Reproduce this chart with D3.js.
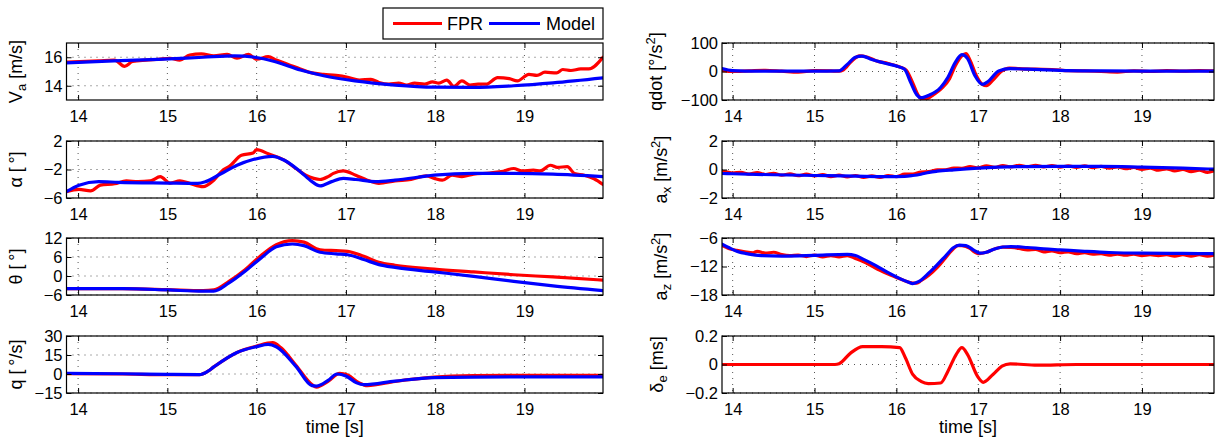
<!DOCTYPE html>
<html>
<head>
<meta charset="utf-8">
<script src="https://cdn.jsdelivr.net/npm/d3@7"></script>
<style>
body { margin: 0; background: #fff; }
text { font-family: "Liberation Sans", Arial, sans-serif; fill: #000; }
</style>
</head>
<body>
<div class="render"></div>
<script>
"use strict";

// shared time axis
var timeRange = [13.87, 19.88];
var xTicks = [14, 15, 16, 17, 18, 19];

// [time, value] pairs
var vaFpr = [[13.87,15.66],[14.23,15.75],[14.41,15.8],[14.52,15.36],[14.61,15.7],[14.76,15.8],[14.9,15.86],[15.03,15.93],[15.14,15.8],[15.25,16.16],[15.38,16.23],[15.52,16.1],[15.67,16.2],[15.78,15.93],[15.91,16.2],[16.0,15.86],[16.13,16.05],[16.22,15.8],[16.36,15.48],[16.49,15.18],[16.62,14.9],[16.75,14.8],[16.89,14.73],[17.02,14.6],[17.15,14.4],[17.28,14.45],[17.37,14.23],[17.48,14.11],[17.59,14.18],[17.68,14.05],[17.77,14.18],[17.88,14.11],[17.97,14.27],[18.04,14.18],[18.13,14.39],[18.21,13.95],[18.3,14.34],[18.39,14.05],[18.48,14.11],[18.57,14.11],[18.7,14.57],[18.83,14.5],[18.92,14.34],[19.05,14.8],[19.14,14.73],[19.23,14.95],[19.36,14.9],[19.43,15.14],[19.52,15.07],[19.63,15.18],[19.72,15.18],[19.88,16.0]];
var vaModel = [[13.87,15.6],[14.4,15.75],[14.9,15.85],[15.4,16.0],[15.75,16.1],[15.98,16.0],[16.2,15.7],[16.49,15.1],[16.75,14.7],[17.1,14.34],[17.55,14.05],[17.99,13.9],[18.43,13.88],[18.88,14.0],[19.32,14.2],[19.88,14.55]];

var alphaFpr = [[13.87,-5.1],[14.01,-4.8],[14.14,-5.0],[14.25,-4.2],[14.41,-4.0],[14.54,-3.6],[14.67,-3.7],[14.81,-3.6],[14.92,-3.0],[15.03,-3.9],[15.14,-3.6],[15.25,-3.95],[15.4,-4.4],[15.52,-3.5],[15.63,-2.0],[15.69,-1.6],[15.83,0],[15.96,0.3],[16.0,0.8],[16.13,0.2],[16.31,-0.7],[16.44,-1.86],[16.55,-2.8],[16.64,-3.25],[16.71,-3.4],[16.8,-3.0],[16.86,-2.55],[16.97,-2.2],[17.11,-2.8],[17.24,-3.5],[17.37,-3.95],[17.55,-3.6],[17.73,-3.4],[17.9,-2.9],[17.99,-3.25],[18.08,-3.5],[18.19,-2.8],[18.3,-3.0],[18.43,-2.65],[18.61,-2.5],[18.74,-2.3],[18.88,-1.86],[18.97,-2.2],[19.1,-2.1],[19.18,-2.2],[19.29,-1.4],[19.37,-1.7],[19.48,-1.6],[19.56,-2.55],[19.67,-2.8],[19.78,-3.3],[19.88,-4.1]];
var alphaModel = [[13.87,-5.1],[14.01,-4.2],[14.23,-3.7],[14.45,-3.8],[15.0,-3.9],[15.34,-3.95],[15.43,-3.7],[15.6,-2.6],[15.78,-1.4],[15.96,-0.6],[16.18,-0.15],[16.31,-0.7],[16.49,-2.3],[16.62,-3.7],[16.71,-4.3],[16.84,-3.7],[16.97,-3.25],[17.11,-3.4],[17.33,-3.7],[17.55,-3.5],[17.99,-2.8],[18.43,-2.55],[18.88,-2.55],[19.32,-2.65],[19.88,-3.0]];

var thetaFpr = [[13.87,-4.0],[14.5,-4.0],[15.0,-4.3],[15.4,-4.6],[15.52,-4.4],[15.69,-1.7],[15.87,2.0],[16.05,6.5],[16.22,9.9],[16.4,11.2],[16.53,10.7],[16.71,8.3],[16.89,8.0],[17.02,7.8],[17.2,6.2],[17.37,4.3],[17.55,3.4],[17.99,2.2],[18.43,1.3],[18.88,0.4],[19.32,-0.3],[19.88,-1.3]];
var thetaModel = [[13.87,-4.0],[14.5,-4.0],[15.0,-4.4],[15.4,-4.8],[15.52,-4.8],[15.69,-2.2],[15.87,1.5],[16.05,5.7],[16.22,9.2],[16.4,10.1],[16.53,9.6],[16.71,7.5],[16.89,7.0],[17.02,6.7],[17.2,5.2],[17.37,3.6],[17.55,2.7],[17.99,1.3],[18.43,-0.1],[18.88,-1.7],[19.32,-3.1],[19.88,-4.6]];

var qFpr = [[13.87,0.2],[14.5,0],[15.0,-0.5],[15.36,-0.5],[15.45,2],[15.52,5.6],[15.78,17],[16.0,22],[16.18,24.7],[16.27,20.9],[16.44,6.9],[16.62,-8.4],[16.67,-10.4],[16.8,-5.9],[16.93,0.5],[17.02,-0.8],[17.15,-7.1],[17.24,-9.2],[17.55,-5.9],[17.99,-2.5],[18.43,-1.3],[19.0,-1.0],[19.88,-1.0]];
var qModel = [[13.87,0.5],[14.5,0.2],[15.0,-0.3],[15.36,-0.5],[15.45,2],[15.52,5.6],[15.78,17],[16.0,21.6],[16.13,23.4],[16.22,21.5],[16.44,6],[16.62,-9.2],[16.67,-9.5],[16.8,-5],[16.9,0],[17.0,-1.5],[17.12,-7],[17.2,-8.4],[17.55,-5.6],[17.99,-2.8],[18.43,-2.4],[19.0,-2.3],[19.88,-2.3]];

var qdotFpr = [[13.87,3],[14.0,0],[14.2,2],[14.4,4],[14.6,1],[14.8,-2],[15.0,3],[15.2,2],[15.3,1],[15.35,5],[15.45,35],[15.55,55],[15.65,50],[15.75,38],[15.9,28],[16.05,15],[16.12,5],[16.2,-40],[16.27,-85],[16.32,-98],[16.38,-95],[16.45,-82],[16.55,-60],[16.65,-25],[16.72,20],[16.8,55],[16.85,63],[16.9,40],[16.97,-10],[17.05,-45],[17.1,-50],[17.18,-30],[17.28,0],[17.38,12],[17.5,10],[17.7,8],[17.9,7],[18.1,3],[18.3,2],[18.5,0],[18.7,-2],[18.9,2],[19.1,0],[19.3,3],[19.5,1],[19.7,3],[19.88,2]];
var qdotModel = [[13.87,10],[14.0,3],[14.3,1],[15.0,1],[15.3,2],[15.4,25],[15.5,50],[15.58,54],[15.7,42],[15.85,30],[16.0,19],[16.1,8],[16.17,-35],[16.25,-82],[16.3,-92],[16.4,-83],[16.54,-56],[16.63,-20],[16.72,32],[16.8,59],[16.87,45],[16.96,-15],[17.05,-45],[17.12,-35],[17.25,2],[17.39,10],[17.6,8],[18.0,4],[18.5,2],[19.0,1],[19.88,1]];

var axFpr = [[13.87,-0.15],[13.9,-0.15],[14.0,-0.25],[14.1,-0.2],[14.2,-0.32],[14.3,-0.22],[14.4,-0.35],[14.5,-0.27],[14.6,-0.4],[14.7,-0.3],[14.8,-0.44],[14.9,-0.33],[15.0,-0.45],[15.1,-0.36],[15.2,-0.5],[15.3,-0.4],[15.4,-0.52],[15.5,-0.42],[15.6,-0.55],[15.7,-0.45],[15.8,-0.55],[15.9,-0.42],[16.0,-0.5],[16.1,-0.33],[16.2,-0.32],[16.3,-0.18],[16.4,-0.15],[16.5,-0.03],[16.6,-0.02],[16.7,0.1],[16.8,0.08],[16.9,0.2],[17.0,0.12],[17.1,0.25],[17.2,0.15],[17.3,0.28],[17.4,0.18],[17.5,0.3],[17.6,0.2],[17.7,0.3],[17.8,0.18],[17.9,0.28],[18.0,0.17],[18.1,0.25],[18.2,0.15],[18.3,0.25],[18.4,0.13],[18.5,0.22],[18.6,0.1],[18.7,0.18],[18.8,0.06],[18.9,0.14],[19.0,0.0],[19.1,0.1],[19.2,-0.05],[19.3,0.05],[19.4,-0.1],[19.5,0.0],[19.6,-0.15],[19.7,-0.05],[19.8,-0.2],[19.88,-0.1]];
var axModel = [[13.87,-0.28],[14.0,-0.3],[14.5,-0.37],[15.0,-0.42],[15.5,-0.47],[15.9,-0.5],[16.1,-0.48],[16.2,-0.42],[16.3,-0.33],[16.4,-0.2],[16.5,-0.12],[16.7,-0.02],[17.0,0.1],[17.5,0.2],[18.0,0.22],[18.5,0.22],[19.0,0.17],[19.5,0.1],[19.88,0.02]];

var azFpr = [[13.87,-7.6],[13.95,-8.2],[14.05,-8.6],[14.15,-8.9],[14.25,-9.1],[14.3,-8.8],[14.4,-9.2],[14.5,-9.0],[14.6,-9.5],[14.7,-9.7],[14.8,-9.6],[14.9,-9.9],[15.0,-9.6],[15.1,-10.0],[15.2,-9.7],[15.3,-10.0],[15.4,-9.7],[15.5,-10.3],[15.6,-11.0],[15.7,-11.9],[15.8,-12.8],[15.9,-13.6],[16.0,-14.3],[16.1,-15.0],[16.2,-15.5],[16.25,-15.5],[16.3,-15.0],[16.4,-13.8],[16.5,-12.2],[16.6,-10.2],[16.7,-8.2],[16.75,-7.6],[16.8,-7.6],[16.9,-8.2],[16.95,-8.9],[17.0,-9.3],[17.1,-9.0],[17.2,-8.3],[17.3,-7.9],[17.4,-8.0],[17.5,-8.2],[17.6,-8.5],[17.7,-8.4],[17.8,-8.9],[17.9,-8.7],[18.0,-9.1],[18.1,-8.9],[18.2,-9.3],[18.3,-9.1],[18.4,-9.4],[18.5,-9.3],[18.6,-9.6],[18.7,-9.4],[18.8,-9.6],[18.9,-9.4],[19.0,-9.7],[19.1,-9.5],[19.2,-9.7],[19.3,-9.5],[19.4,-9.8],[19.5,-9.5],[19.6,-9.8],[19.7,-9.5],[19.8,-9.8],[19.88,-9.6]];
var azModel = [[13.87,-7.3],[13.95,-8.0],[14.05,-8.8],[14.2,-9.4],[14.35,-9.7],[14.6,-9.8],[15.0,-9.65],[15.4,-9.45],[15.5,-9.7],[15.6,-10.5],[15.75,-11.8],[15.9,-13.3],[16.05,-14.6],[16.15,-15.3],[16.2,-15.6],[16.27,-15.2],[16.4,-13.3],[16.5,-11.6],[16.6,-9.8],[16.7,-8.0],[16.77,-7.5],[16.85,-7.6],[16.95,-8.6],[17.02,-9.2],[17.1,-9.0],[17.2,-8.3],[17.3,-7.9],[17.4,-7.8],[17.6,-8.0],[17.8,-8.3],[18.0,-8.5],[18.3,-8.8],[18.6,-9.05],[19.0,-9.2],[19.5,-9.25],[19.88,-9.3]];

var deFpr = [[13.87,0],[15.25,0],[15.3,0.005],[15.44,0.08],[15.59,0.125],[15.82,0.125],[16.04,0.118],[16.11,0.047],[16.2,-0.07],[16.3,-0.118],[16.39,-0.134],[16.54,-0.13],[16.63,-0.047],[16.73,0.07],[16.8,0.118],[16.87,0.07],[16.99,-0.082],[17.06,-0.125],[17.18,-0.07],[17.29,-0.012],[17.39,0.005],[17.72,-0.005],[18.2,0],[19.88,0]];

var seriesNames = ["FPR", "Model"];
var seriesColors = ["#ff0000", "#0000ff"];

var W = 1219, H = 442;
var cols = [[66.5, 603], [722, 1214]];
var rowTop = [43, 141, 238, 336];
var rowH = 57;

var panels = [
   { col: 0, row: 0, ylim: [13, 17], yticks: [14, 16], lx: 22, label: [["V"], ["a", "sub"], [" [m/s]"]], lines: [vaFpr, vaModel] },
   { col: 0, row: 1, ylim: [-6, 2], yticks: [-6, -2, 2], lx: 22, label: [["\u03b1 [\u2009\u00b0]"]], lines: [alphaFpr, alphaModel] },
   { col: 0, row: 2, ylim: [-6, 12], yticks: [-6, 0, 6, 12], lx: 22, label: [["\u03b8 [\u2009\u00b0]"]], lines: [thetaFpr, thetaModel] },
   { col: 0, row: 3, ylim: [-15, 30], yticks: [-15, 0, 15, 30], lx: 22, label: [["q [\u2009\u00b0/s]"]], lines: [qFpr, qModel] },
   { col: 1, row: 0, ylim: [-100, 100], yticks: [-100, 0, 100], lx: 662, label: [["qdot [\u00b0/s"], ["2", "sup"], ["]"]], lines: [qdotFpr, qdotModel] },
   { col: 1, row: 1, ylim: [-2, 2], yticks: [-2, 0, 2], lx: 667, label: [["a"], ["x", "sub"], [" [m/s"], ["2", "sup"], ["]"]], lines: [axFpr, axModel] },
   { col: 1, row: 2, ylim: [-18, -6], yticks: [-18, -12, -6], lx: 667, label: [["a"], ["z", "sub"], [" [m/s"], ["2", "sup"], ["]"]], lines: [azFpr, azModel] },
   { col: 1, row: 3, ylim: [-0.2, 0.2], yticks: [-0.2, 0, 0.2], lx: 663, label: [["\u03b4"], ["e", "sub"], [" [ms]"]], lines: [deFpr] }
];

var svg = d3.select(".render").append("svg").attr("width", W).attr("height", H);

var fmt = d3.format("");

panels.forEach(function (p, i) {
   var x0 = cols[p.col][0], x1 = cols[p.col][1];
   var y0 = rowTop[p.row], y1 = y0 + rowH;
   var x = d3.scaleLinear().domain(timeRange).range([x0, x1]);
   var y = d3.scaleLinear().domain(p.ylim).range([y1, y0]);
   var g = svg.append("g");

   g.append("clipPath").attr("id", "clip" + i).append("rect")
      .attr("x", x0).attr("y", y0).attr("width", x1 - x0).attr("height", y1 - y0);

   // dotted grid
   g.selectAll(".gx").data(xTicks).enter().append("line").attr("class", "gx")
      .attr("x1", function (d) { return x(d); }).attr("x2", function (d) { return x(d); })
      .attr("y1", y0).attr("y2", y1)
      .attr("stroke", "#555").attr("stroke-width", 1).attr("stroke-dasharray", "1,5");
   g.selectAll(".gy").data(p.yticks).enter().append("line").attr("class", "gy")
      .attr("x1", x0).attr("x2", x1)
      .attr("y1", function (d) { return y(d); }).attr("y2", function (d) { return y(d); })
      .attr("stroke", "#555").attr("stroke-width", 1).attr("stroke-dasharray", "1,5");

   // data lines
   var line = d3.line().x(function (d) { return x(d[0]); }).y(function (d) { return y(d[1]); }).curve(d3.curveMonotoneX);
   g.append("g").attr("clip-path", "url(#clip" + i + ")")
      .selectAll("path").data(p.lines).enter().append("path")
      .attr("d", line).attr("fill", "none")
      .attr("stroke", function (d, k) { return seriesColors[k]; })
      .attr("stroke-width", 3.2).attr("stroke-linejoin", "round").attr("stroke-linecap", "round");

   // axes, ticks pointing inward
   var xb = g.append("g").attr("transform", "translate(0," + y1 + ")")
      .call(d3.axisBottom(x).tickValues(xTicks).tickFormat(fmt).tickSizeInner(-5).tickSizeOuter(0).tickPadding(10));
   g.append("g").attr("transform", "translate(0," + y0 + ")")
      .call(d3.axisTop(x).tickValues(xTicks).tickFormat("").tickSizeInner(-5).tickSizeOuter(0));
   var yl = g.append("g").attr("transform", "translate(" + x0 + ",0)")
      .call(d3.axisLeft(y).tickValues(p.yticks).tickFormat(fmt).tickSizeInner(-5).tickSizeOuter(0).tickPadding(4));
   g.append("g").attr("transform", "translate(" + x1 + ",0)")
      .call(d3.axisRight(y).tickValues(p.yticks).tickFormat("").tickSizeInner(-5).tickSizeOuter(0));

   g.selectAll(".domain").remove();
   g.selectAll(".tick line").attr("stroke", "#000");
   g.selectAll(".tick text").attr("font-size", "16.5px").attr("font-family", "Liberation Sans, Arial, sans-serif");

   g.append("rect").attr("x", x0).attr("y", y0).attr("width", x1 - x0).attr("height", y1 - y0)
      .attr("fill", "none").attr("stroke", "#000").attr("stroke-width", 1.2);

   // y label
   var t = g.append("text").attr("transform", "translate(" + p.lx + "," + ((y0 + y1) / 2) + ")rotate(-90)")
      .attr("text-anchor", "middle").style("font-size", "18px");
   var shift = 0;
   p.label.forEach(function (s) {
      var want = s[1] === "sub" ? 4 : s[1] === "sup" ? -7 : 0;
      t.append("tspan").text(s[0]).attr("dy", want - shift)
         .style("font-size", s[1] ? "13px" : "18px");
      shift = want;
   });

   if (p.row === 3) {
      g.append("text").text("time [s]").attr("x", (x0 + x1) / 2).attr("y", 433)
         .attr("text-anchor", "middle").style("font-size", "18px");
   }
});

// legend
var lg = svg.append("g");
lg.append("rect").attr("x", 383).attr("y", 8).attr("width", 220).attr("height", 31)
   .attr("fill", "#fff").attr("stroke", "#000").attr("stroke-width", 1.2);
var legX = [[393, 442, 447], [489, 540, 546]];
seriesNames.forEach(function (n, k) {
   lg.append("line").attr("x1", legX[k][0]).attr("x2", legX[k][1]).attr("y1", 23.5).attr("y2", 23.5)
      .attr("stroke", seriesColors[k]).attr("stroke-width", 3.2);
   lg.append("text").text(n).attr("x", legX[k][2]).attr("y", 30).style("font-size", "18px");
});
</script>
</body>
</html>
